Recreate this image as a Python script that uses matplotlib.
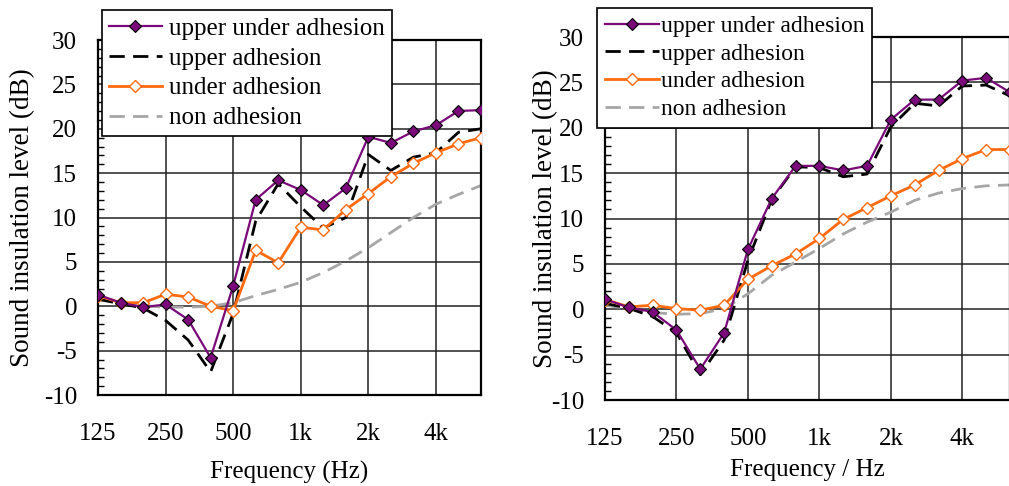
import numpy as np
import matplotlib
matplotlib.use("Agg")
import matplotlib.pyplot as plt
from matplotlib.ticker import MultipleLocator, FixedLocator

plt.rcParams['font.family'] = ['Liberation Serif', 'DejaVu Serif']
plt.rcParams['axes.unicode_minus'] = False

# 1/3 octave band centre frequencies (Hz)
freqs = [125, 160, 200, 250, 315, 400, 500, 630, 800, 1000,
         1250, 1600, 2000, 2500, 3150, 4000, 5000, 6300]
tick_labels = ['125', '250', '500', '1k', '2k', '4k']

# left panel
left_upper_under = [1.3, 0.4, -0.1, 0.2, -1.5, -5.8, 2.3, 12.0, 14.2, 13.1,
                    11.4, 13.3, 19.1, 18.4, 19.7, 20.4, 22.0, 22.1]
left_upper = [0.8, 0.3, -0.2, -1.6, -3.8, -7.4, -0.8, 9.6, 13.8, 11.2,
              8.8, 10.0, 17.1, 15.3, 16.8, 17.3, 19.6, 20.0]
left_under = [1.2, 0.4, 0.4, 1.35, 1.05, 0.0, -0.5, 6.3, 4.9, 8.9,
              8.6, 10.9, 12.7, 14.6, 16.1, 17.3, 18.3, 19.0]
left_non = [0.75, 0.3, 0.05, -0.1, -0.1, 0.0, 0.4, 1.2, 1.9, 2.7,
            3.8, 5.1, 6.6, 8.3, 10.0, 11.5, 12.6, 13.6]

# right panel
right_upper_under = [1.1, 0.2, -0.3, -2.3, -6.6, -2.6, 6.6, 12.2, 15.8, 15.8,
                     15.3, 15.8, 20.9, 23.1, 23.1, 25.2, 25.5, 23.9]
right_upper = [0.65, 0.1, -0.8, -2.6, -7.2, -3.4, 5.4, 12.1, 15.7, 15.6,
               14.6, 14.9, 20.1, 22.7, 22.4, 24.6, 24.7, 23.5]
right_under = [1.07, 0.26, 0.44, 0.07, -0.1, 0.44, 3.3, 4.8, 6.1, 7.8,
               9.9, 11.2, 12.5, 13.7, 15.3, 16.6, 17.6, 17.6]
right_non = [0.44, 0.07, -0.37, -0.55, -0.48, 0.07, 1.7, 3.75, 5.2, 6.7,
             8.3, 9.6, 10.7, 12.0, 12.8, 13.3, 13.6, 13.7]

purple = '#7a0a7a'
orange = '#ff6a0e'
gray = '#a6a6a6'
fs = 18

x = np.arange(len(freqs))


def draw_panel(ax, uu, up, un, non):
    ax.plot(x, uu, color=purple, lw=1.6, marker='D', ms=5.8,
            mfc=purple, mec='black', mew=0.8, label='upper under adhesion', zorder=4)
    ax.plot(x, up, color='black', lw=2.0, dashes=(5.5, 3),
            label='upper adhesion', zorder=3)
    ax.plot(x, un, color=orange, lw=2.0, marker='D', ms=5.8,
            mfc='white', mec=orange, mew=1.0, label='under adhesion', zorder=3.5)
    ax.plot(x, non, color=gray, lw=2.0, dashes=(5.5, 3),
            label='non adhesion', zorder=2)

    ax.set_xlim(0, len(freqs) - 1)
    ax.set_ylim(-10, 30)
    ax.xaxis.set_major_locator(FixedLocator([0, 3, 6, 9, 12, 15]))
    ax.set_xticklabels(tick_labels)
    ax.yaxis.set_major_locator(MultipleLocator(5))
    ax.yaxis.set_minor_locator(MultipleLocator(1))
    ax.tick_params(axis='x', length=0, pad=20, labelsize=fs)
    ax.tick_params(axis='y', which='major', length=0, pad=15, labelsize=fs)
    ax.tick_params(axis='y', which='minor', direction='in', length=4, width=1)
    ax.grid(True, which='major', color='#222222', lw=1.1)
    for sp in ax.spines.values():
        sp.set_linewidth(1.6)
        sp.set_color('black')
    ax.set_ylabel('Sound insulation level (dB)', fontsize=19.5)


fig = plt.figure(figsize=(10.09, 4.86), dpi=100)

ax1 = fig.add_axes([98 / 1009, 1 - 395 / 486, 383 / 1009, 355 / 486])
draw_panel(ax1, left_upper_under, left_upper, left_under, left_non)
ax1.set_xlabel('Frequency (Hz)', fontsize=fs)
ax1.yaxis.set_label_coords(-0.165, 0.5)
ax1.xaxis.set_label_coords(0.5, -0.185)
leg1 = ax1.legend(loc='upper left', bbox_to_anchor=(102 / 1009, 1 - 10 / 486),
                  bbox_transform=fig.transFigure, fontsize=fs, frameon=True,
                  fancybox=False, framealpha=1, edgecolor='black',
                  handlelength=2.1, handletextpad=0.3, labelspacing=0.3,
                  borderpad=0.28, borderaxespad=0)
leg1.get_frame().set_linewidth(1.2)

ax2 = fig.add_axes([605 / 1009, 1 - 400 / 486, 405 / 1009, 363 / 486])
draw_panel(ax2, right_upper_under, right_upper, right_under, right_non)
ax2.set_xlabel('Frequency / Hz', fontsize=fs)
ax2.yaxis.set_label_coords(-0.115, 0.5)
ax2.xaxis.set_label_coords(0.5, -0.163)
leg2 = ax2.legend(loc='upper left', bbox_to_anchor=(597 / 1009, 1 - 8 / 486),
                  bbox_transform=fig.transFigure, fontsize=17, frameon=True,
                  fancybox=False, framealpha=1, edgecolor='black',
                  handlelength=2.3, handletextpad=0.1, labelspacing=0.26,
                  borderpad=0.32, borderaxespad=0)
leg2.get_frame().set_linewidth(1.2)

fig.savefig('out.png', dpi=100)
